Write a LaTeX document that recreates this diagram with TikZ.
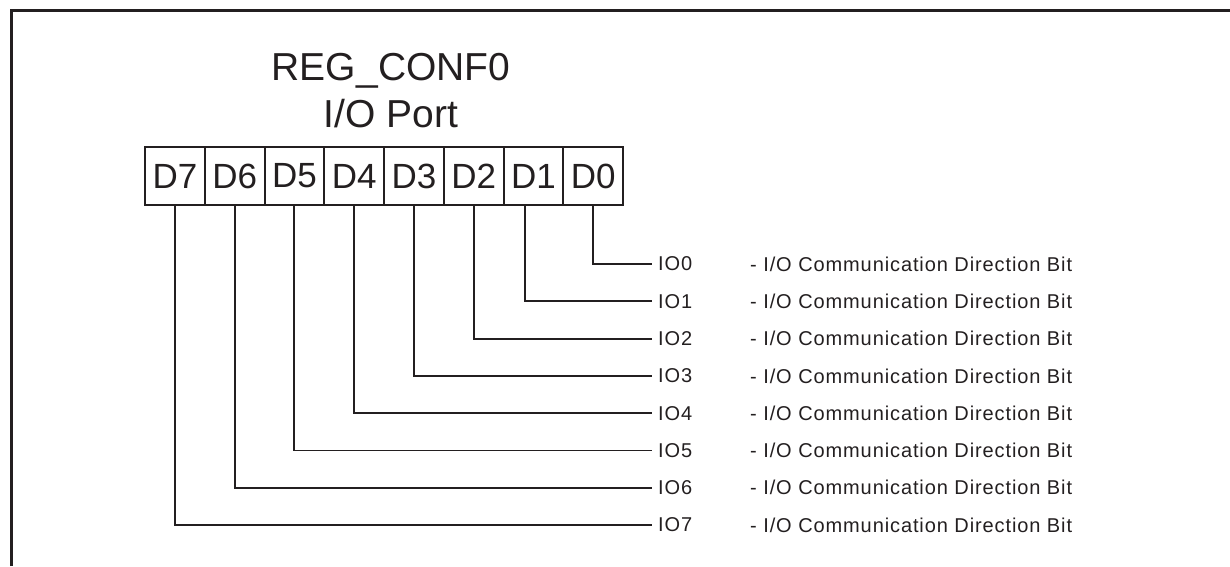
\documentclass[tikz,border=0pt]{standalone}
\usepackage{fontspec}
\setmainfont{Liberation Sans}
\newfontfamily\smallfnt[LetterSpace=4.5]{Liberation Sans}
\definecolor{ink}{HTML}{231F20}
\tikzset{
  cell/.style={draw=ink, line width=2pt, minimum width=59.75pt, minimum height=58pt, inner sep=0pt,
    font=\fontsize{35pt}{40pt}\selectfont, text=ink},
  conn/.style={draw=ink, line width=1.8pt},
  iolab/.style={anchor=west, inner xsep=6pt, inner ysep=0pt, font=\smallfnt\fontsize{20pt}{23pt}\selectfont, text=ink},
  desc/.style={anchor=west, inner sep=0pt, font=\smallfnt\fontsize{20pt}{23pt}\selectfont, text=ink},
  title/.style={anchor=base, inner sep=0pt, font=\fontsize{39pt}{45pt}\selectfont, text=ink},
  frame/.style={draw=ink, line width=3pt}
}
\begin{document}
\begin{tikzpicture}[x=1pt,y=-1pt]
\useasboundingbox (0,0) rectangle (1230,566);
\draw[frame] (11,566) -- (11,10) -- (1230,10);
\node[title] (t1) at (391,80) {REG\_CONF0};
\node[title] (t2) at (391,127) {I/O Port};
\foreach \i in {0,...,7}{
  \pgfmathsetmacro{\cx}{145+59.75*(7-\i)+29.875}
  \node[cell] (d\i) at (\cx,176) {D\i};
  \pgfmathsetmacro{\ly}{264+37.3*\i}
  \node[iolab] (io\i) at (652,\ly) {IO\i};
  \node[desc] (ds\i) at (750,\ly) {- I/O Communication Direction Bit};
}
\foreach \i in {0,2,3,4,5,6,7}{
  \draw[conn] (d\i.south) |- (io\i.west);
}
\draw[conn] ([xshift=-8pt]d1.south) |- (io1.west);
\end{tikzpicture}
\end{document}
